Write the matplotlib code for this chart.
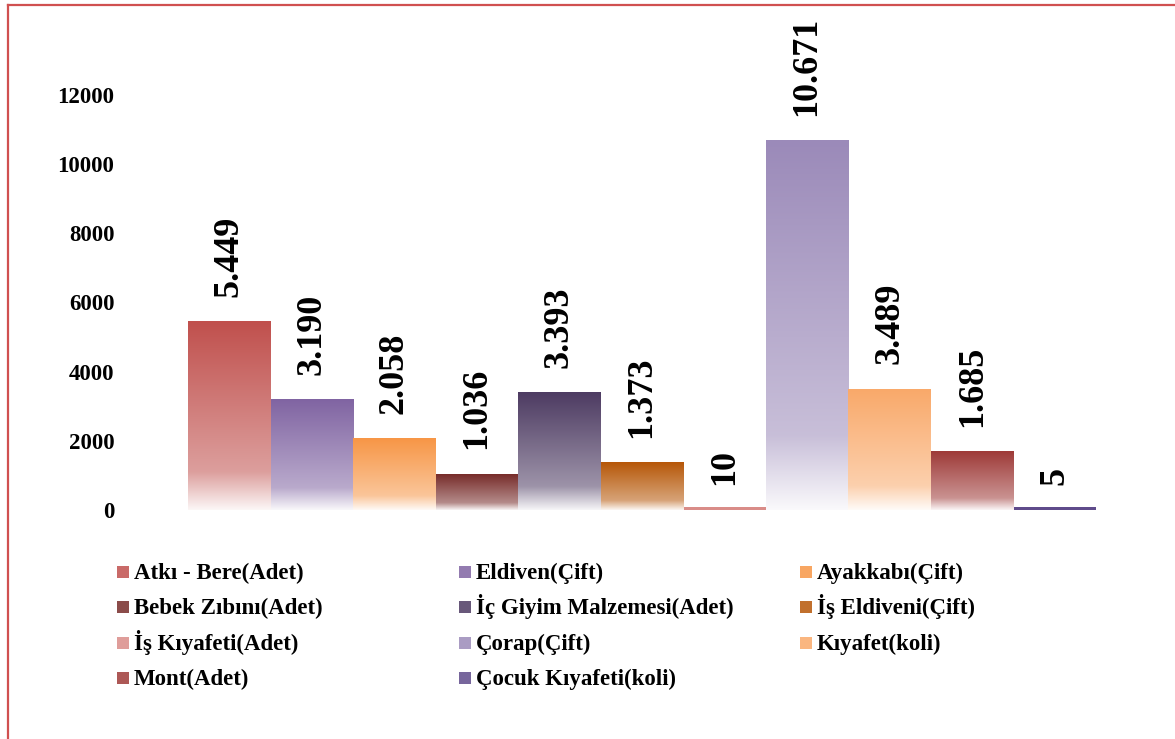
import matplotlib
matplotlib.use("Agg")
import matplotlib.pyplot as plt
import numpy as np
from matplotlib.colors import to_rgb
from matplotlib.patches import Rectangle
from matplotlib.lines import Line2D

plt.rcParams['font.family'] = ['Liberation Serif', 'DejaVu Serif']
plt.rcParams['font.weight'] = 'bold'

# Veriler
kategoriler = ['Atkı - Bere(Adet)', 'Eldiven(Çift)', 'Ayakkabı(Çift)', 'Bebek Zıbını(Adet)',
               'İç Giyim Malzemesi(Adet)', 'İş Eldiveni(Çift)', 'İş Kıyafeti(Adet)', 'Çorap(Çift)',
               'Kıyafet(koli)', 'Mont(Adet)', 'Çocuk Kıyafeti(koli)']
degerler = [5449, 3190, 2058, 1036, 3393, 1373, 10, 10671, 3489, 1685, 5]
etiketler = ['5.449', '3.190', '2.058', '1.036', '3.393', '1.373', '10', '10.671', '3.489', '1.685', '5']
renkler = ['#C0504D', '#8064A2', '#F79646', '#772C2A', '#4D3B62', '#B65708',
           '#D98C88', '#9B8AB9', '#F9A96A', '#9E3A38', '#5F4B8B']
yticks = [0, 2000, 4000, 6000, 8000, 10000, 12000]


def gradyan(renk, n=200):
    # alttan uste: beyaz -> acik ton -> asil renk
    c = np.array(to_rgb(renk))
    w = np.ones(3)
    orta = 0.55 * c + 0.45 * w
    alt = 0.05 * c + 0.95 * w
    t = np.linspace(0, 1, n)[:, None]
    g = np.where(t < 0.2,
                 alt + (orta - alt) * (t / 0.2),
                 orta + (c - orta) * ((t - 0.2) / 0.8))
    return g[:, None, :]


fig = plt.figure(figsize=(11.75, 7.39), dpi=100)
ax = fig.add_axes([188 / 1175, 1 - 510 / 739, (1096 - 188) / 1175, (510 - 95) / 739])

x = np.arange(len(degerler))
bars = ax.bar(x, degerler, width=1.0, color='none', edgecolor='none')
for b, renk, et in zip(bars, renkler, etiketler):
    x0, h, w = b.get_x(), b.get_height(), b.get_width()
    if h < 60:
        # cok kisa cubuklar - ince serit
        ax.add_patch(Rectangle((x0, 0), w, 75, color=renk, lw=0))
    else:
        ax.imshow(gradyan(renk), extent=[x0, x0 + w, 0, h], origin='lower',
                  aspect='auto', interpolation='bilinear', zorder=2)
    ax.annotate(et, (x0 + w / 2, h), xytext=(0, 18), textcoords='offset points',
                rotation=90, ha='center', va='bottom', fontsize=26, fontweight='bold')

ax.set_xlim(-0.5, len(degerler) - 0.5)
ax.set_ylim(0, 12000)
ax.set_yticks(yticks)
ax.set_yticklabels([str(v) for v in yticks], fontsize=16.5, fontweight='bold')
ax.tick_params(axis='y', length=0, pad=53)
ax.set_xticks([])
for s in ax.spines.values():
    s.set_visible(False)

# Lejant (3 sutun)
sutun_x = [117, 459, 800]
satir_y = [572, 607, 643, 678]
for i, (ad, renk) in enumerate(zip(kategoriler, renkler)):
    sx = sutun_x[i % 3]
    sy = satir_y[i // 3]
    c = np.array(to_rgb(renk))
    fig.patches.append(Rectangle((sx / 1175, 1 - (sy + 6) / 739), 12 / 1175, 12 / 739,
                                 transform=fig.transFigure, color=0.85 * c + 0.15, lw=0))
    fig.text((sx + 17) / 1175, 1 - (sy + 7) / 739, ad, fontsize=16.5, fontweight='bold',
             va='baseline', ha='left')

# Cerceve
fig.add_artist(Line2D([8 / 1175, 1.0], [1 - 5 / 739, 1 - 5 / 739], color='#D05050', lw=1.6,
                      transform=fig.transFigure))
fig.add_artist(Line2D([8 / 1175, 8 / 1175], [0, 1 - 5 / 739], color='#D05050', lw=1.6,
                      transform=fig.transFigure))

fig.savefig('out.png', dpi=100)
